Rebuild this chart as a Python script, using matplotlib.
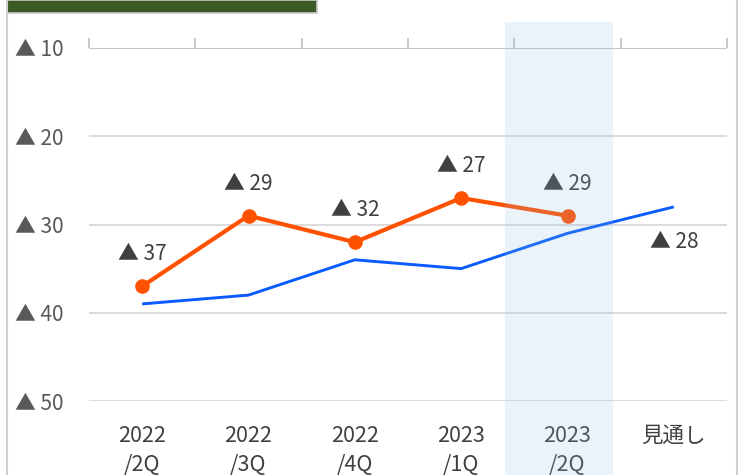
import matplotlib.pyplot as plt
from matplotlib.lines import Line2D
from matplotlib.patches import Rectangle
from matplotlib.transforms import blended_transform_factory

# ---------------------------------------------------------------------------
# データ（▲ = マイナス）
# ---------------------------------------------------------------------------
categories = ["2022\n/2Q", "2022\n/3Q", "2022\n/4Q", "2023\n/1Q", "2023\n/2Q", "見通し"]
actual = [-37, -29, -32, -27, -29]            # オレンジ（実績）
trend = [-39, -38, -34, -35, -31, -28]        # 青
y_ticks = [-10, -20, -30, -40, -50]
shade_span = (3.41, 4.43)                      # 2023/2Q の網掛け（手置きの矩形）

JP = ["Noto Sans CJK JP", "DejaVu Sans"]


def tri(v):
    return f"▲ {abs(v)}"


fig = plt.figure(figsize=(7.44, 4.75), dpi=100)
ax = fig.add_axes([89 / 744, 1 - 401 / 475, 638 / 744, 353 / 475])

x = list(range(len(categories)))
ax.set_xlim(-0.5, len(categories) - 0.5)
ax.set_ylim(-50, -10)

# グリッド
for v in y_ticks[1:]:
    ax.axhline(v, color="#d9d9d9", lw=1.3, zorder=1)
ax.axhline(-10, color="#bfbfbf", lw=1.3, zorder=1)

# 線
ax.plot(x, trend, color="#0a5cff", lw=2.1, zorder=3, solid_capstyle="butt")
ax.plot(x[:len(actual)], actual, color="#ff5200", lw=3.0, marker="o",
        markersize=9.5, zorder=4)

# データラベル
for i, v in enumerate(actual):
    ax.annotate(tri(v), (i, v), xytext=(0, 23), textcoords="offset points",
                ha="center", va="center", fontsize=15, color="#404040",
                family=JP, zorder=5)
ax.annotate(tri(trend[-1]), (x[-1], trend[-1]), xytext=(0, -25),
            textcoords="offset points", ha="center", va="center",
            fontsize=15, color="#404040", family=JP, zorder=5)

# 軸
for s in ax.spines.values():
    s.set_visible(False)
ax.set_yticks(y_ticks)
ax.set_yticklabels([tri(v) for v in y_ticks], ha="left", family=JP,
                   fontsize=15, color="#595959")
ax.tick_params(axis="y", length=0, pad=53)

ax.set_xticks([i - 0.5 for i in range(len(categories) + 1)])
ax.set_xticks(x, minor=True)
ax.set_xticklabels(categories, minor=True, family=JP, fontsize=15.5,
                   color="#404040", linespacing=1.45)
ax.tick_params(axis="x", which="major", top=True, bottom=False,
               labelbottom=False, direction="out", length=7,
               color="#bfbfbf", width=1.2)
ax.tick_params(axis="x", which="minor", bottom=False, top=False,
               labelbottom=True, length=0, pad=17)

# 網掛け（前面に半透明）
trans = blended_transform_factory(ax.transData, fig.transFigure)
ax.add_patch(Rectangle((shade_span[0], 0), shade_span[1] - shade_span[0],
                       1 - 22 / 475, transform=trans, facecolor="#8cb8e6",
                       alpha=0.18, lw=0, zorder=10, clip_on=False))

# 枠と見出し
fig.add_artist(Line2D([7 / 744, 7 / 744], [0, 1], color="#d0d0d0", lw=1.5))
fig.add_artist(Line2D([737 / 744, 737 / 744], [0, 1], color="#d0d0d0", lw=1.5))
fig.add_artist(Rectangle((7 / 744, 1 - 13 / 475), 310 / 744, 13 / 475,
                         transform=fig.transFigure, facecolor="#3c5a25",
                         edgecolor="#c8c8c8", lw=1.2))

fig.savefig("out.png", dpi=100)
